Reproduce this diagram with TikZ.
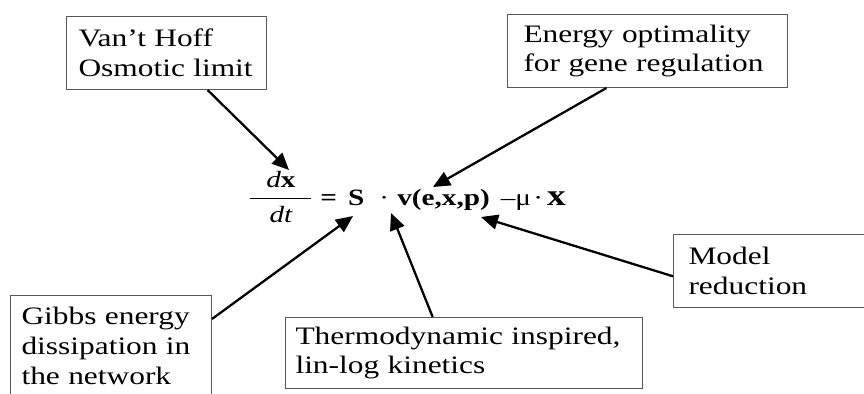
\documentclass[tikz,border=0pt]{standalone}
\usepackage{fontspec}
\setmainfont{Liberation Serif}[FakeStretch=1.25]
\usepackage{amsmath}
\usetikzlibrary{arrows.meta, positioning}

\begin{document}
\begin{tikzpicture}[x=0.02cm, y=-0.02cm,
    infobox/.style={draw=black!65, line width=0.6pt, anchor=north west, align=left,
        inner ysep=0pt, font=\fontsize{14.3}{17}\selectfont},
    pointer/.style={-{Triangle[length=0.34cm, width=0.3cm]}, line width=1.3pt}]
    \useasboundingbox (0,0) rectangle (864,393);
    % Boxes
    \node[infobox, inner xsep=0.24cm, text width=3.52cm, minimum height=1.46cm] (vh) at (66,16) {Van’t Hoff\\Osmotic limit};
    \node[infobox, inner xsep=0.32cm, text width=4.96cm, minimum height=1.46cm] (eo) at (507,14) {Energy optimality\\for gene regulation};
    \node[infobox, inner xsep=0.22cm, text width=3.58cm, minimum height=2.02cm] (gb) at (10,295) {Gibbs energy\\dissipation in\\the network};
    \node[infobox, inner xsep=0.2cm, text width=6.74cm, minimum height=1.42cm] (td) at (285,317) {Thermodynamic inspired,\\lin-log kinetics};
    \node[infobox, inner xsep=0.3cm, text width=3.4cm, minimum height=1.46cm] (mr) at (673,234) {Model\\reduction};
    % Equation
    \node[anchor=base west, inner sep=0pt, font=\fontsize{13.3}{16}\selectfont] (eq) at (248,205)
        {\(\dfrac{\hspace{9pt}\textit{d}\textbf{x}\hspace{9pt}}{\textit{dt}}\)\hspace{4pt}\textbf{=}\hspace{6.3pt}\textbf{S}\hspace{8.5pt}·\hspace{4.7pt}\textbf{v(e,x,p)}\hspace{6.3pt}–μ\hspace{1.3pt}·\hspace{2.3pt}\textbf{\fontsize{17}{18}\selectfont x}};
    % Arrow targets
    \coordinate (tipA) at (289,170);
    \coordinate (tipB) at (433,187);
    \coordinate (tipC) at (353,216);
    \coordinate (tipD) at (391,213);
    \coordinate (tipE) at (481,217);
    % Arrows
    \draw[pointer] (vh.-42) -- (tipA);
    \draw[pointer] (eo.222) -- (tipB);
    \draw[pointer] (gb.15) -- (tipC);
    \draw[pointer] (td.131) -- (tipD);
    \draw[pointer] (mr.183) -- (tipE);
\end{tikzpicture}
\end{document}
